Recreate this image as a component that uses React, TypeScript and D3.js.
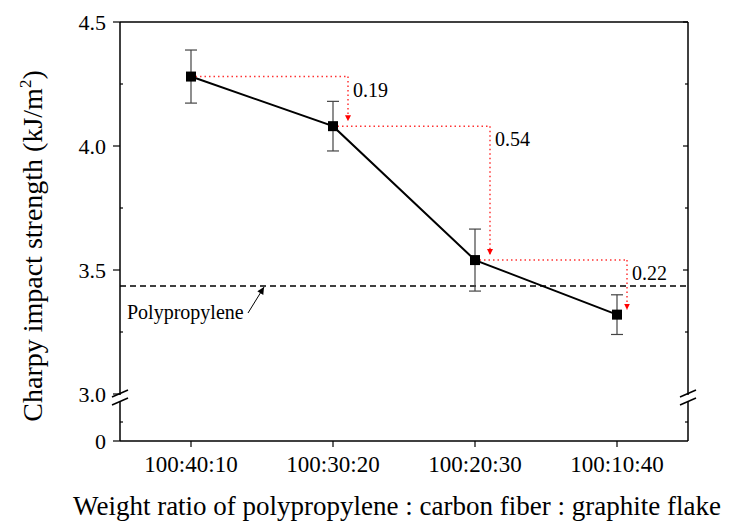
import * as d3 from "d3";

const categories = ["100:40:10", "100:30:20", "100:20:30", "100:10:40"];
const strength = [4.28, 4.08, 3.54, 3.32];
const errors = [0.107, 0.1, 0.125, 0.08];
const baseline = 3.435;
const majorTicks = [3.0, 3.5, 4.0, 4.5];
const minorTicks = [3.25, 3.75, 4.25];
const drops = ["0.19", "0.54", "0.22"];

const W = 731;
const H = 523;
const left = 120;
const right = 688;
const top = 22;
const bottom = 441;
const serif = '"Liberation Serif", "Times New Roman", serif';

export default function App() {
  const x = d3.scaleBand().domain(categories).range([left, right]).padding(0);
  const cx = (c: string) => x(c)! + x.bandwidth() / 2;
  const y = d3.scaleLinear().domain([3.0, 4.5]).range([394, top]);
  const yLow = d3.scaleLinear().domain([0, 1]).range([bottom, 403]);

  const pts = categories.map((c, i) => ({ c, v: strength[i], e: errors[i] }));
  const line = d3
    .line<{ c: string; v: number }>()
    .x((d) => cx(d.c))
    .y((d) => y(d.v));

  // offset of each red drop line from the next point
  const dropX = (i: number) => cx(categories[i + 1]) + (i === 2 ? 10 : 15);

  const breakMark = (bx: number) => (
    <g stroke="#000" strokeWidth={1.5}>
      <line x1={bx} y1={395} x2={bx} y2={401} stroke="#fff" strokeWidth={3} />
      <line x1={bx - 8} y1={397} x2={bx + 8} y2={390} />
      <line x1={bx - 8} y1={405} x2={bx + 8} y2={398} />
    </g>
  );

  return (
    <svg width={W} height={H} style={{ position: "absolute", left: 0, top: 0, fontFamily: serif }}>
      <defs>
        <marker id="redArrow" viewBox="0 0 10 10" refX="10" refY="5" markerWidth="6" markerHeight="9" orient="auto" markerUnits="userSpaceOnUse">
          <path d="M0,0 L10,5 L0,10 Z" fill="#ff0000" />
        </marker>
        <marker id="blackArrow" viewBox="0 0 10 10" refX="10" refY="5" markerWidth="8" markerHeight="7" orient="auto" markerUnits="userSpaceOnUse">
          <path d="M0,0 L10,5 L0,10 Z" fill="#000" />
        </marker>
      </defs>
      <rect width={W} height={H} fill="#fff" />

      {/* frame */}
      <g stroke="#000" strokeWidth={1.5} fill="none">
        <line x1={left} y1={top} x2={right} y2={top} />
        <line x1={left} y1={bottom} x2={right} y2={bottom} />
        <line x1={left} y1={top} x2={left} y2={bottom} />
        <line x1={right} y1={top} x2={right} y2={bottom} />
      </g>
      {breakMark(left)}
      {breakMark(right)}

      {/* ticks */}
      <g stroke="#000" strokeWidth={1.2}>
        {majorTicks.map((t) => (
          <g key={t}>
            <line x1={left - 7} x2={left} y1={y(t)} y2={y(t)} />
            {t > 3 && <line x1={right - 5} x2={right} y1={y(t)} y2={y(t)} />}
          </g>
        ))}
        {minorTicks.map((t) => (
          <g key={t}>
            <line x1={left} x2={left + 3} y1={y(t)} y2={y(t)} />
            <line x1={right - 3} x2={right} y1={y(t)} y2={y(t)} />
          </g>
        ))}
        <line x1={left - 7} x2={left} y1={yLow(0)} y2={yLow(0)} />
        <line x1={left} x2={left + 3} y1={yLow(0.5)} y2={yLow(0.5)} />
        <line x1={right - 3} x2={right} y1={yLow(0.5)} y2={yLow(0.5)} />
        {categories.map((c) => (
          <line key={c} x1={cx(c)} x2={cx(c)} y1={bottom} y2={bottom + 6} />
        ))}
      </g>
      <g fontSize={22} fill="#000" textAnchor="end">
        {majorTicks.map((t) => (
          <text key={t} x={left - 14} y={y(t)} dy="0.35em">
            {t.toFixed(1)}
          </text>
        ))}
        <text x={left - 14} y={yLow(0)} dy="0.35em">0</text>
      </g>
      <g fontSize={23} fill="#000" textAnchor="middle">
        {categories.map((c) => (
          <text key={c} x={cx(c)} y={bottom + 31}>
            {c}
          </text>
        ))}
      </g>

      {/* polypropylene reference */}
      <line x1={left} x2={right} y1={y(baseline)} y2={y(baseline)} stroke="#000" strokeWidth={1.5} strokeDasharray="6,4" />
      <text x={127} y={319} fontSize={20}>Polypropylene</text>
      <line x1={248} y1={313} x2={264} y2={y(baseline) + 1} stroke="#000" strokeWidth={1} markerEnd="url(#blackArrow)" />

      {/* red drop annotations */}
      <g fill="none" stroke="#ff3333" strokeWidth={1.5} strokeDasharray="1.5,3">
        {pts.slice(0, 3).map((p, i) => (
          <g key={i}>
            <line x1={cx(p.c)} x2={dropX(i)} y1={y(p.v)} y2={y(p.v)} />
            <line x1={dropX(i)} x2={dropX(i)} y1={y(p.v)} y2={y(pts[i + 1].v) - 5} markerEnd="url(#redArrow)" />
          </g>
        ))}
      </g>
      <g fontSize={20} fill="#000">
        {pts.slice(0, 3).map((p, i) => (
          <text key={i} x={dropX(i) + 5} y={y(p.v) + 20}>
            {drops[i]}
          </text>
        ))}
      </g>

      {/* error bars */}
      <g stroke="#444" strokeWidth={1.2}>
        {pts.map((p) => (
          <g key={p.c}>
            <line x1={cx(p.c)} x2={cx(p.c)} y1={y(p.v + p.e)} y2={y(p.v - p.e)} />
            <line x1={cx(p.c) - 6} x2={cx(p.c) + 6} y1={y(p.v + p.e)} y2={y(p.v + p.e)} />
            <line x1={cx(p.c) - 6} x2={cx(p.c) + 6} y1={y(p.v - p.e)} y2={y(p.v - p.e)} />
          </g>
        ))}
      </g>

      <path d={line(pts) ?? ""} fill="none" stroke="#000" strokeWidth={2} />
      {pts.map((p) => (
        <rect key={p.c} x={cx(p.c) - 5} y={y(p.v) - 5} width={10} height={10} fill="#000" />
      ))}

      {/* axis titles */}
      <text transform="translate(42,246) rotate(-90)" textAnchor="middle" fontSize={28}>
        Charpy impact strength (kJ/m<tspan dy="-11" fontSize={17}>2</tspan>
        <tspan dy="11">)</tspan>
      </text>
      <text x={397} y={515} textAnchor="middle" fontSize={27}>
        Weight ratio of polypropylene : carbon fiber : graphite flake
      </text>
    </svg>
  );
}
